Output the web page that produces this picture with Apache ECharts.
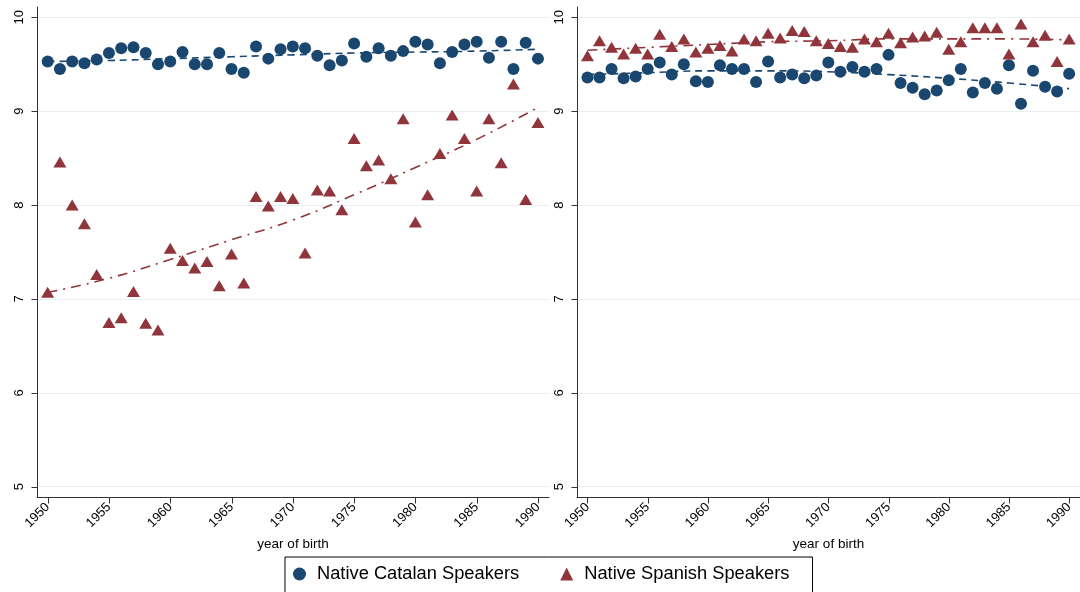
<!DOCTYPE html>
<html>
<head>
<meta charset="utf-8">
<script src="https://cdn.jsdelivr.net/npm/echarts@6/dist/echarts.min.js"></script>
<style>html,body{margin:0;padding:0;background:#fff}#c{width:1080px;height:592px}</style>
</head>
<body>
<div id="c"></div>
<script>
const years = [1950,1951,1952,1953,1954,1955,1956,1957,1958,1959,1960,1961,1962,1963,1964,1965,1966,1967,1968,1969,1970,1971,1972,1973,1974,1975,1976,1977,1978,1979,1980,1981,1982,1983,1984,1985,1986,1987,1988,1989,1990];
const leftCatalan = [9.53,9.45,9.53,9.51,9.55,9.62,9.67,9.68,9.62,9.50,9.53,9.63,9.50,9.50,9.62,9.45,9.41,9.69,9.56,9.66,9.69,9.67,9.59,9.49,9.54,9.72,9.58,9.67,9.59,9.64,9.74,9.71,9.51,9.63,9.71,9.74,9.57,9.74,9.45,9.73,9.56];
const leftSpanish = [7.07,8.46,8.00,7.80,7.26,6.75,6.80,7.08,6.74,6.67,7.54,7.41,7.33,7.40,7.14,7.48,7.17,8.09,7.99,8.09,8.07,7.49,8.16,8.15,7.95,8.71,8.42,8.48,8.28,8.92,7.82,8.11,8.55,8.96,8.71,8.15,8.92,8.45,9.29,8.06,8.88];
const rightCatalan = [9.36,9.36,9.45,9.35,9.37,9.45,9.52,9.39,9.50,9.32,9.31,9.49,9.45,9.45,9.31,9.53,9.36,9.39,9.35,9.38,9.52,9.42,9.47,9.42,9.45,9.60,9.30,9.25,9.18,9.22,9.33,9.45,9.20,9.30,9.24,9.49,9.08,9.43,9.26,9.21,9.40];
const rightSpanish = [9.59,9.75,9.68,9.61,9.67,9.61,9.82,9.69,9.77,9.63,9.67,9.70,9.64,9.77,9.75,9.83,9.78,9.86,9.85,9.75,9.72,9.69,9.68,9.77,9.74,9.83,9.73,9.79,9.80,9.84,9.66,9.74,9.89,9.89,9.89,9.61,9.93,9.74,9.81,9.53,9.77];
const trendYears = [1950,1955,1960,1965,1970,1975,1980,1985,1990];
const leftCatalanTrend = [9.53,9.54,9.56,9.58,9.60,9.62,9.63,9.64,9.66];
const leftSpanishTrend = [7.07,7.22,7.42,7.63,7.84,8.11,8.40,8.70,9.04];
const rightCatalanTrend = [9.39,9.41,9.43,9.43,9.42,9.39,9.35,9.30,9.24];
const rightSpanishTrend = [9.65,9.68,9.71,9.74,9.75,9.77,9.77,9.77,9.76];
const xTicks = [1950,1955,1960,1965,1970,1975,1980,1985,1990];
const yTicks = [5,6,7,8,9,10];
const seriesNames = ['Native Catalan Speakers','Native Spanish Speakers'];
const xTitle = 'year of birth';

const NAVY = '#1a476f', MAROON = '#90353b';
const FONT = 'Liberation Sans, Arial, sans-serif';
const AXC = '#333333';
const X0 = 1949.13, X1 = 1990.9, Y0 = 4.89, Y1 = 10.11;
const pair = (ys, vs) => ys.map((y, i) => [y, vs[i]]);

function xAxis(gi) {
  return {
    type: 'value', gridIndex: gi, min: X0, max: X1,
    name: xTitle, nameLocation: 'middle', nameGap: 38,
    nameTextStyle: {color: '#000', fontFamily: FONT, fontSize: 13.5},
    axisLine: {show: true, onZero: false, lineStyle: {color: AXC, width: 1}},
    axisTick: {show: false, customValues: xTicks},
    axisLabel: {show: true, rotate: 45, margin: 8, color: '#000', fontFamily: FONT, fontSize: 13, customValues: xTicks, formatter: v => String(v)},
    splitLine: {show: false}
  };
}
function yAxis(gi) {
  return {
    type: 'value', gridIndex: gi, min: Y0, max: Y1,
    axisLine: {show: true, onZero: false, lineStyle: {color: AXC, width: 1}},
    axisTick: {show: false, customValues: yTicks},
    axisLabel: {show: true, rotate: 90, margin: 11, color: '#000', fontFamily: FONT, fontSize: 13, customValues: yTicks, formatter: v => String(v)},
    splitLine: {show: true, lineStyle: {color: '#e6eff1', width: 1}}
  };
}
function scatter(name, gi, data, sym, color) {
  return {
    name, type: 'scatter', xAxisIndex: gi, yAxisIndex: gi, data,
    symbol: sym, symbolSize: sym === 'circle' ? 12 : [13, 11],
    itemStyle: {color, opacity: 1}, z: 3, silent: true
  };
}
function trend(gi, data, color, dash) {
  return {
    name: 'trend', type: 'line', xAxisIndex: gi, yAxisIndex: gi, data,
    smooth: true, symbol: 'none', z: 4, silent: true,
    lineStyle: {color, width: 1.6, type: dash}
  };
}
// axis tick marks drawn through the axis scales
function ticks(gi, values, dir) {
  return {
    name: 'ticks', type: 'custom', xAxisIndex: gi, yAxisIndex: gi, clip: false, silent: true, z: 5,
    data: values.map(v => dir === 'x' ? [v, Y0] : [X0, v]),
    renderItem: (params, api) => {
      const p = api.coord([api.value(0), api.value(1)]);
      const x = Math.round(p[0]) + 0.5, y = Math.round(p[1]) + 0.5;
      const shape = dir === 'x' ? {x1: x, y1: y, x2: x, y2: y + 6} : {x1: x, y1: y, x2: x - 6, y2: y};
      return {type: 'line', shape, style: {stroke: AXC, lineWidth: 1}};
    }
  };
}

const chart = echarts.init(document.getElementById('c'), null, {renderer: 'canvas'});
chart.setOption({
  animation: false,
  backgroundColor: '#fff',
  grid: [
    {left: 37, top: 7, width: 512, height: 490, show: false},
    {left: 577, top: 7, width: 512, height: 490, show: false}
  ],
  xAxis: [xAxis(0), xAxis(1)],
  yAxis: [yAxis(0), yAxis(1)],
  legend: {
    data: [
      {name: seriesNames[0], icon: 'circle'},
      {name: seriesNames[1], icon: 'triangle'}
    ],
    left: 285, top: 557,
    orient: 'horizontal', itemWidth: 13, itemHeight: 13, itemGap: 41,
    padding: [8, 23, 10, 8],
    borderColor: '#000', borderWidth: 1, backgroundColor: '#fff',
    textStyle: {color: '#000', fontFamily: FONT, fontSize: 18.3, padding: [0, 0, 0, 6]},
    selectedMode: false
  },
  series: [
    ticks(0, xTicks, 'x'), ticks(0, yTicks, 'y'),
    ticks(1, xTicks, 'x'), ticks(1, yTicks, 'y'),
    trend(0, pair(trendYears, leftCatalanTrend), NAVY, [7, 5]),
    trend(0, pair(trendYears, leftSpanishTrend), MAROON, [10, 6, 2, 6]),
    trend(1, pair(trendYears, rightCatalanTrend), NAVY, [7, 5]),
    trend(1, pair(trendYears, rightSpanishTrend), MAROON, [10, 6, 2, 6]),
    scatter(seriesNames[0], 0, pair(years, leftCatalan), 'circle', NAVY),
    scatter(seriesNames[1], 0, pair(years, leftSpanish), 'triangle', MAROON),
    scatter(seriesNames[0], 1, pair(years, rightCatalan), 'circle', NAVY),
    scatter(seriesNames[1], 1, pair(years, rightSpanish), 'triangle', MAROON)
  ]
});
</script>
</body>
</html>
